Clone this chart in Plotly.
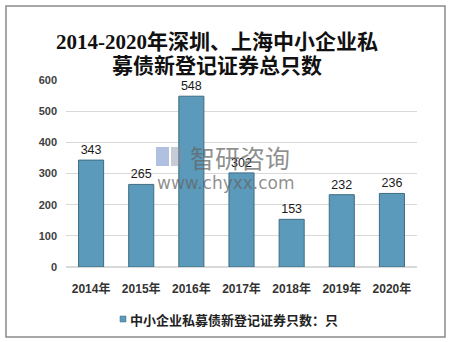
import plotly.graph_objects as go

years = ["2014年", "2015年", "2016年", "2017年", "2018年", "2019年", "2020年"]
counts = [343, 265, 548, 302, 153, 232, 236]
series_name = "中小企业私募债新登记证券只数：只"
title_lines = ["2014-2020年深圳、上海中小企业私", "募债新登记证券总只数"]
y_ticks = [0, 100, 200, 300, 400, 500, 600]

W, H = 452, 342
L, R, T, B = 66, 35, 80, 75
pw, ph = W - L - R, H - T - B

def px(x):
    return (x - L) / pw

def py(y):
    return (H - B - y) / ph

BAR = "#5b9aba"

fig = go.Figure()
fig.add_trace(go.Bar(
    x=years, y=counts, name=series_name, showlegend=False,
    marker=dict(color=BAR, line=dict(color="#3e6c82", width=1)),
    text=[str(v) for v in counts], textposition="outside",
    textfont=dict(family="Liberation Sans, Noto Sans CJK SC", size=12.5, color="#1a1a1a"),
    cliponaxis=False,
))

fig.update_layout(
    width=W, height=H,
    margin=dict(l=L, r=R, t=T, b=B, autoexpand=False),
    paper_bgcolor="white", plot_bgcolor="white",
    bargap=0.5,
    showlegend=False,
    xaxis=dict(showgrid=False, showline=False, ticks="", ticklabelstandoff=13,
               tickfont=dict(family="Liberation Sans, Noto Sans CJK SC", size=12, color="#333333", weight="bold")),
    yaxis=dict(range=[0, 600], tickvals=y_ticks, showgrid=True, gridcolor="#d9d9d9", gridwidth=1,
               zeroline=True, zerolinecolor="#d9d9d9", showline=False, ticks="",
               tickfont=dict(family="Liberation Sans", size=11, color="#404040", weight="bold"),
               ticklabelstandoff=8),
)

# title as two lines
for txt, yy in zip(title_lines, [42, 66]):
    fig.add_annotation(text="<b>" + txt + "</b>", xref="paper", yref="paper", x=px(217), y=py(yy),
                       xanchor="center", yanchor="middle", showarrow=False,
                       font=dict(family="Liberation Serif, Noto Sans CJK SC", size=21, color="#111111"))

# legend: small square swatch + label
fig.add_shape(type="rect", xref="paper", yref="paper", x0=px(120), x1=px(126), y0=py(322), y1=py(316),
              line=dict(color="#3e6c82", width=0.5), fillcolor=BAR)
fig.add_annotation(text="<b>" + series_name + "</b>", xref="paper", yref="paper", x=px(128), y=py(319),
                   xanchor="left", yanchor="middle", showarrow=False,
                   font=dict(family="Noto Sans CJK SC", size=13, color="#222222"))

# outer border
fig.add_shape(type="rect", xref="paper", yref="paper",
              x0=px(6), x1=px(445), y0=py(337), y1=py(6),
              line=dict(color="#8a8a8a", width=1.5), layer="below")

# watermark
fig.add_shape(type="rect", xref="paper", yref="paper", x0=px(156), x1=px(169), y0=py(166), y1=py(147),
              line=dict(width=0), fillcolor="rgba(110,140,200,0.55)")
fig.add_shape(type="rect", xref="paper", yref="paper", x0=px(171), x1=px(182), y0=py(166), y1=py(147),
              line=dict(width=0), fillcolor="rgba(130,140,160,0.45)")
fig.add_annotation(text="智研咨询", xref="paper", yref="paper", x=px(240), y=py(157),
                   showarrow=False, font=dict(family="Noto Sans CJK SC", size=25, color="rgba(100,100,100,0.72)"))
fig.add_annotation(text="www.chyxx.com", xref="paper", yref="paper", x=px(226), y=py(183),
                   showarrow=False, font=dict(family="DejaVu Sans", size=17, color="rgba(100,100,100,0.72)"))

fig.write_html("out.html")
